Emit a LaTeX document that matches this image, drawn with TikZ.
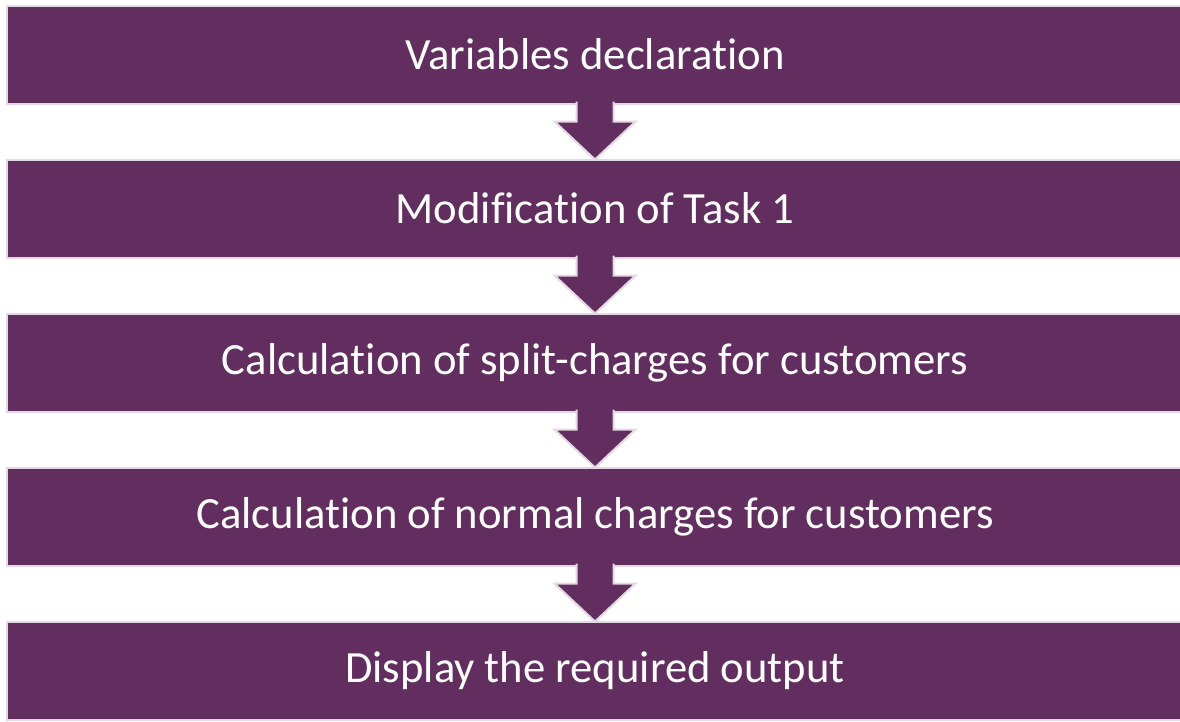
\documentclass[tikz,border=0pt]{standalone}
\usepackage{fontspec}
\setmainfont{Carlito}[RawFeature=-liga,RawFeature=-clig,RawFeature=-dlig,RawFeature=-calt]
\usetikzlibrary{positioning,calc}
\definecolor{plum}{HTML}{622E5F}
\definecolor{lilac}{HTML}{E3D8E3}

\begin{document}
\begin{tikzpicture}[x=0.75pt,y=0.75pt,
        stage/.style={fill=plum,draw=lilac,line width=1.5pt,text=white,
            minimum width=882pt,minimum height=73.5pt,inner sep=0pt,outer sep=0pt,
            font=\fontsize{33.5}{40}\selectfont},
        flowarrow/.style={fill=plum,draw=lilac,line width=1.5pt}]
    \useasboundingbox (0,0) rectangle (1180,-721);
    \node[stage] (s1) at (595,-54.5) {Variables declaration};
    \node[stage,below=42pt of s1] (s2) {Modification of Task 1};
    \node[stage,below=42pt of s2] (s3) {Calculation of split-charges for customers};
    \node[stage,below=42pt of s3] (s4) {Calculation of normal charges for customers};
    \node[stage,below=42pt of s4] (s5) {Display the required output};

    \foreach \i [evaluate={\j=int(\i+1)}] in {1,2,3,4}{
        \filldraw[flowarrow] ($(s\i.south)+(-18.5,2)$) -- ($(s\i.south)+(-18.5,-18)$)
            -- ($(s\i.south)+(-40.5,-18)$) -- (s\j.north)
            -- ($(s\i.south)+(40.5,-18)$) -- ($(s\i.south)+(18.5,-18)$)
            -- ($(s\i.south)+(18.5,2)$);
    }
\end{tikzpicture}
\end{document}
